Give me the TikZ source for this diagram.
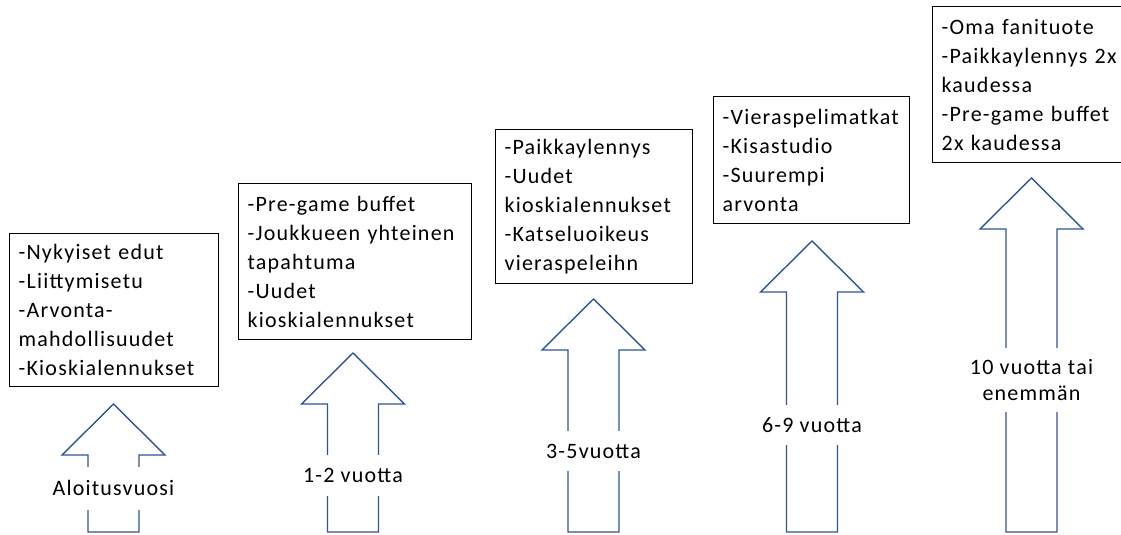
\documentclass[tikz,border=0pt]{standalone}
\usepackage{fontspec}
\setmainfont{Carlito}[LetterSpace=5.5]
\begin{document}
\definecolor{arrowblue}{HTML}{2F5597}
\begin{tikzpicture}[x=1bp,y=-1bp,
  txt/.style={font=\fontsize{22bp}{29bp}\selectfont},
  benefitbox/.style={txt, draw=black, line width=1.3bp, anchor=north west,
    align=left, inner xsep=9bp, inner ysep=0bp, fill=white},
  arrowline/.style={draw=arrowblue, line width=1.4bp, fill=white, line join=miter},
  arrowlabel/.style={txt, fill=white, align=center, inner sep=0bp, minimum width=80bp}]
\useasboundingbox (0,0) rectangle (1121,535);

% block arrow: centre x, tip y
\newcommand\blockarrow[2]{%
  \path[arrowline] (#1-25.5,532) -- (#1-25.5,#2+51) -- (#1-51.5,#2+51) -- (#1,#2)
     -- (#1+51.5,#2+51) -- (#1+25.5,#2+51) -- (#1+25.5,532) -- cycle;}

% year arrows
\blockarrow{113.5}{404}
\blockarrow{353}{353}
\blockarrow{593.5}{299}
\blockarrow{812}{241}
\blockarrow{1031.5}{178}

\node[arrowlabel, minimum height=43bp] (l1) at (113.5,488) {Aloitusvuosi};
\node[arrowlabel, minimum height=41bp] (l2) at (353,475) {1-2 vuotta};
\node[arrowlabel, minimum height=40bp] (l3) at (593.5,451) {3-5vuotta};
\node[arrowlabel, minimum height=40bp] (l4) at (812,425) {6-9 vuotta};
\node[arrowlabel, minimum height=64bp,
      font=\fontsize{22bp}{26bp}\selectfont] (l5) at (1031.5,380) {10 vuotta tai\\enemmän};

% benefit boxes
\node[benefitbox, text width=191bp, minimum height=153bp] (b1) at (9,233)
  {-Nykyiset edut\\-Liittymisetu\\-Arvonta-\\mahdollisuudet\\-Kioskialennukset};
\node[benefitbox, text width=215bp, minimum height=156bp] (b2) at (238,183)
  {-Pre-game buffet\\-Joukkueen yhteinen\\tapahtuma\\-Uudet\\kioskialennukset};
\node[benefitbox, text width=179bp, minimum height=154bp] (b3) at (495,129)
  {-Paikkaylennys\\-Uudet\\kioskialennukset\\-Katseluoikeus\\vieraspeleihn};
\node[benefitbox, text width=178bp, minimum height=127bp] (b4) at (713,96)
  {-Vieraspelimatkat\\-Kisastudio\\-Suurempi\\arvonta};
\node[benefitbox, text width=180bp, minimum height=156bp] (b5) at (932,6)
  {-Oma fanituote\\-Paikkaylennys 2x\\kaudessa\\-Pre-game buffet\\2x kaudessa};
\end{tikzpicture}
\end{document}
